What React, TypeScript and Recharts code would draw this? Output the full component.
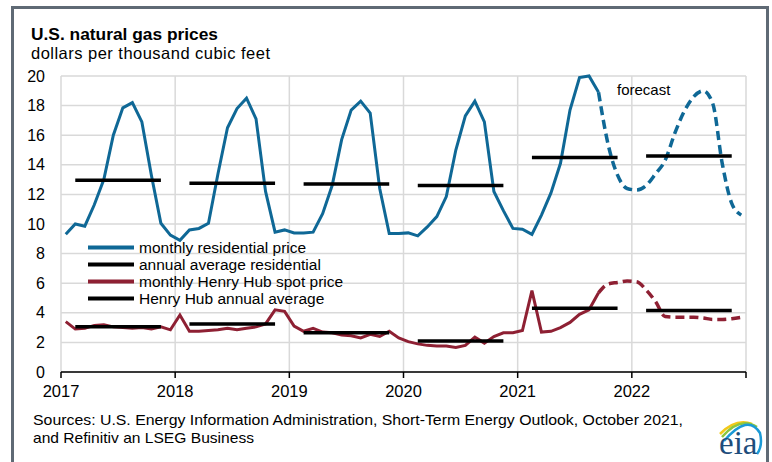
import { CartesianGrid, Legend, Line, LineChart, XAxis, YAxis } from 'recharts';

const years = ['2017', '2018', '2019', '2020', '2021', '2022'];

// monthly residential price, Jan 2017 - Dec 2022
const residentialMonthly = [
  9.3, 10.0, 9.85, 11.3, 13.0, 16.0, 17.85, 18.2, 16.9, 13.3, 10.05, 9.25,
  8.9, 9.6, 9.7, 10.05, 13.4, 16.5, 17.8, 18.5, 17.1, 12.2, 9.45, 9.6,
  9.4, 9.4, 9.45, 10.7, 12.6, 15.7, 17.7, 18.3, 17.5, 12.4, 9.35, 9.35,
  9.4, 9.2, 9.8, 10.5, 11.85, 15.0, 17.3, 18.3, 16.9, 12.2, 10.9, 9.7,
  9.65, 9.3, 10.6, 12.1, 14.1, 17.7, 19.9, 20.0, 18.9, 15.4, 13.3, 12.4,
  12.3, 12.6, 13.4, 14.3, 16.1, 17.6, 18.6, 19.0, 18.15, 14.1, 11.4, 10.6,
];

// monthly Henry Hub spot price
const henryHubMonthly = [
  3.4, 2.9, 2.95, 3.15, 3.2, 3.05, 3.0, 2.95, 3.0, 2.9, 3.05, 2.85,
  3.85, 2.75, 2.75, 2.8, 2.85, 2.95, 2.85, 2.95, 3.05, 3.25, 4.2, 4.1,
  3.1, 2.75, 2.95, 2.7, 2.65, 2.5, 2.45, 2.3, 2.55, 2.4, 2.75, 2.3,
  2.05, 1.9, 1.8, 1.75, 1.75, 1.65, 1.8, 2.35, 1.95, 2.4, 2.65, 2.65,
  2.8, 5.5, 2.7, 2.75, 3.0, 3.35, 3.9, 4.2, 5.35, 5.95, 6.05, 6.15,
  6.1, 5.55, 4.75, 3.75, 3.7, 3.7, 3.7, 3.65, 3.55, 3.55, 3.6, 3.7,
];

const residentialAnnual = [12.95, 12.75, 12.7, 12.6, 14.5, 14.6];
const henryHubAnnual = [3.05, 3.25, 2.65, 2.1, 4.3, 4.15];

const forecastStart = 56; // Sep 2021
const yTicks = [0, 2, 4, 6, 8, 10, 12, 14, 16, 18, 20];
const xTicks = [0, 12, 24, 36, 48, 60, 72];

const BLUE = '#0f6896';
const RED = '#8e2033';
const FONT = '"Liberation Sans", Arial, sans-serif';

const legendItems = [
  { name: 'monthly residential price', color: BLUE },
  { name: 'annual average residential', color: '#000' },
  { name: 'monthly Henry Hub spot price', color: RED },
  { name: 'Henry Hub annual average', color: '#000' },
];

const data = residentialMonthly.map((v, i) => {
  const m = i % 12;
  const yr = Math.floor(i / 12);
  const inAvg = m >= 1 && m <= 10;
  return {
    x: i + 0.5,
    res: i <= forecastStart ? v : null,
    resF: i >= forecastStart ? v : null,
    hh: i <= forecastStart ? henryHubMonthly[i] : null,
    hhF: i >= forecastStart ? henryHubMonthly[i] : null,
    resAvg: inAvg ? residentialAnnual[yr] : null,
    hhAvg: inAvg ? henryHubAnnual[yr] : null,
  };
});

function LegendBox() {
  return (
    <div style={{ fontFamily: FONT, fontSize: 15.5, color: '#000' }}>
      {legendItems.map((it) => (
        <div key={it.name} style={{ display: 'flex', alignItems: 'center', height: 17, whiteSpace: 'nowrap' }}>
          <svg width={50} height={17}>
            <line x1={3} x2={49} y1={8.5} y2={8.5} stroke={it.color} strokeWidth={4} />
          </svg>
          <span style={{ marginLeft: 4, lineHeight: '17px' }}>{it.name}</span>
        </div>
      ))}
    </div>
  );
}

export default function App() {
  return (
    <div style={{ position: 'absolute', left: 0, top: 0, width: 772, height: 462, background: '#fff', overflow: 'hidden' }}>
      <div
        style={{
          position: 'absolute',
          left: 11,
          top: 6,
          width: 752,
          height: 480,
          border: '3px solid #5f6a75',
        }}
      />
      <div style={{ position: 'absolute', left: 0, top: 0 }}>
        <LineChart width={772} height={462} data={data} margin={{ top: 76, right: 26, bottom: 60, left: 21 }}>
          <CartesianGrid stroke="#d9d9d9" strokeWidth={1.5} />
          <XAxis
            dataKey="x"
            type="number"
            domain={[0, 72]}
            ticks={xTicks}
            interval={0}
            height={30}
            tickFormatter={(v: number) => years[v / 12] ?? ''}
            axisLine={{ stroke: '#000', strokeWidth: 1.5 }}
            tickLine={{ stroke: '#000', strokeWidth: 1.5 }}
            tickSize={6}
            tickMargin={7}
            tick={{ fill: '#000', fontSize: 16.5, fontFamily: FONT }}
          />
          <YAxis
            type="number"
            domain={[0, 20]}
            ticks={yTicks}
            interval={0}
            width={40}
            axisLine={false}
            tickLine={false}
            tickSize={0}
            tickMargin={16}
            tick={{ fill: '#000', fontSize: 16, fontFamily: FONT }}
          />
          <Line dataKey="res" stroke={BLUE} strokeWidth={3} dot={false} isAnimationActive={false} legendType="none" />
          <Line dataKey="hh" stroke={RED} strokeWidth={3} dot={false} isAnimationActive={false} legendType="none" />
          <Line dataKey="resF" type="monotone" stroke={BLUE} strokeWidth={3.5} strokeDasharray="9 5" dot={false} isAnimationActive={false} legendType="none" />
          <Line dataKey="hhF" type="monotone" stroke={RED} strokeWidth={3.5} strokeDasharray="9 5" dot={false} isAnimationActive={false} legendType="none" />
          <Line dataKey="resAvg" stroke="#000" strokeWidth={3.5} dot={false} isAnimationActive={false} legendType="none" />
          <Line dataKey="hhAvg" stroke="#000" strokeWidth={3.5} dot={false} isAnimationActive={false} legendType="none" />
          <Legend
            layout="horizontal"
            verticalAlign="middle"
            align="center"
            wrapperStyle={{ left: 85, top: 238.5, width: 270, height: 70 }}
            content={() => <LegendBox />}
          />
        </LineChart>
      </div>
      <svg width={772} height={462} style={{ position: 'absolute', left: 0, top: 0, pointerEvents: 'none' }}>
        <text x={31} y={39.5} fontFamily={FONT} fontWeight="bold" fontSize={17} textLength={187} lengthAdjust="spacingAndGlyphs">
          U.S. natural gas prices
        </text>
        <text x={31} y={59} fontFamily={FONT} fontSize={16.5} textLength={239} lengthAdjust="spacing">
          dollars per thousand cubic feet
        </text>
        <text x={617} y={95} fontFamily={FONT} fontSize={15}>forecast</text>
        <text x={33} y={425} fontFamily={FONT} fontSize={15} textLength={650} lengthAdjust="spacingAndGlyphs">
          Sources: U.S. Energy Information Administration, Short-Term Energy Outlook, October 2021,
        </text>
        <text x={33} y={443} fontFamily={FONT} fontSize={15} textLength={221} lengthAdjust="spacingAndGlyphs">
          and Refinitiv an LSEG Business
        </text>
        <path d="M720 434 Q736 418 752 424" stroke="#f2c919" strokeWidth={2.5} fill="none" />
        <path d="M722 437 Q740 416 757 427" stroke="#8cc63f" strokeWidth={2.5} fill="none" />
        <path d="M724 441 Q748 413 760 433 Q763 446 757 454" stroke="#1b9ad6" strokeWidth={2.5} fill="none" />
        <text x={719} y={454} fontFamily='"Liberation Serif", "Times New Roman", serif' fontSize={33} fill="#1e4d7b">eia</text>
      </svg>
    </div>
  );
}
